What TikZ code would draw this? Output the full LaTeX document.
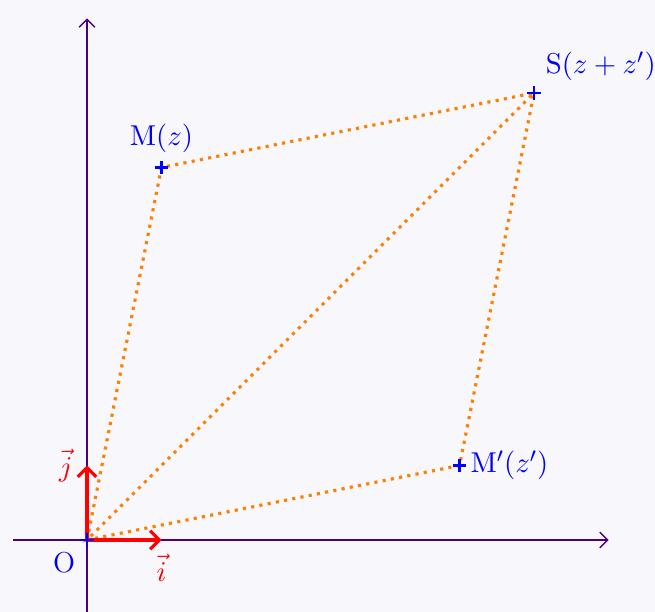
\documentclass[tikz,border=0pt]{standalone}
\usetikzlibrary{arrows.meta}
\definecolor{bgc}{RGB}{248,248,252}
\definecolor{axc}{RGB}{75,0,130}
\begin{document}
\begin{tikzpicture}[
  axis/.style={axc,line width=0.5pt,-{Straight Barb[length=3pt,width=6pt]}},
  vecarrow/.style={red,very thick,-{Straight Barb[length=3.5pt,width=7pt]}},
  seg/.style={orange,very thick,dotted},
  lab/.style={blue,font=\fontsize{11}{13}\selectfont},
  cross/.style={draw=blue,line width=0.8pt}
]
\fill[bgc] (-1.168,-0.966) rectangle (7.624,7.248);
\useasboundingbox (-1.168,-0.966) rectangle (7.624,7.248);
\coordinate (O) at (0,0);
\coordinate (M) at (1,5);
\coordinate (Mp) at (5,1);
\coordinate (S) at (6,6);
\coordinate (xs) at (-1,0);
\coordinate (xe) at (7,0);
\coordinate (ys) at (0,-1);
\coordinate (ye) at (0,7);
\coordinate (I) at (1,0);
\coordinate (J) at (0,1);
\draw[axis] (xs) -- (xe);
\draw[axis] (ys) -- (ye);
\draw[seg] (O) -- (M) -- (S) -- (Mp) -- (O) -- (S);
\draw[vecarrow] (O) -- (I);
\draw[vecarrow] (O) -- (J);
\path[cross] (O) +(-2.5pt,0) -- +(2.5pt,0) (O) +(0,-2.5pt) -- +(0,2.5pt);
\path[cross] (M) +(-2.5pt,0) -- +(2.5pt,0) (M) +(0,-2.5pt) -- +(0,2.5pt);
\path[cross] (Mp) +(-2.5pt,0) -- +(2.5pt,0) (Mp) +(0,-2.5pt) -- +(0,2.5pt);
\path[cross] (S) +(-2.5pt,0) -- +(2.5pt,0) (S) +(0,-2.5pt) -- +(0,2.5pt);
\node[lab,below left,xshift=-1pt,yshift=-1pt] (lO) at (O) {O};
\node[red,below,yshift=-2pt,font=\fontsize{11}{13}\selectfont] (li) at (I) {$\vec{i}$};
\node[red,left,xshift=-2pt,font=\fontsize{11}{13}\selectfont] (lj) at (J) {$\vec{j}$};
\node[lab,above,yshift=2pt] (lM) at (M) {$\mathrm{M}(z)$};
\node[lab,above right,xshift=1pt,yshift=1pt] (lS) at (S) {$\mathrm{S}(z+z')$};
\node[lab,right,inner sep=1pt,xshift=3pt] (lMp) at (Mp) {$\mathrm{M}'(z')$};
\end{tikzpicture}
\end{document}
